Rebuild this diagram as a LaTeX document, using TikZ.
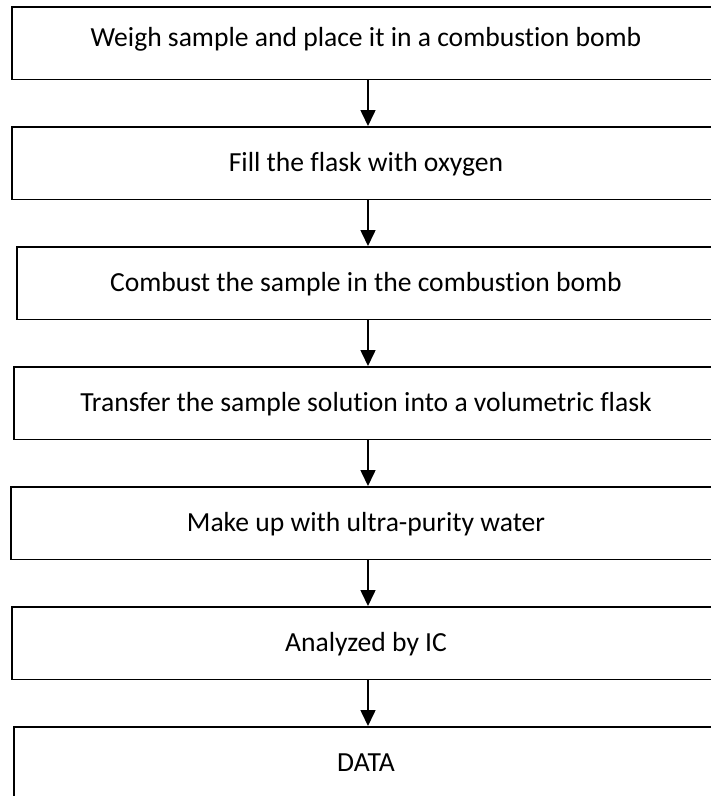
\documentclass[tikz,border=0pt]{standalone}
\usepackage{fontspec}
\setmainfont[RawFeature=-liga]{Carlito}
\usetikzlibrary{arrows.meta}
\begin{document}
\begin{tikzpicture}[x=1pt,y=-1pt,
  stepbox/.style={draw=black, line width=1.6pt, inner sep=0pt, minimum height=72.6pt,
    text height=17.4pt, text depth=0pt, text=black, font=\fontsize{27.6}{32}\selectfont},
  flow/.style={draw=black, line width=1.6pt, -{Triangle[width=15pt,length=16pt]}}]
\clip (0,0) rectangle (711,796);
\fill[white] (0,0) rectangle (711,796);
\node[stepbox, minimum width=708pt, text height=7.4pt] (b1) at (366,43.1) {Weigh sample and place it in a combustion bomb};
\node[stepbox, minimum width=708pt] (b2) at (366,163.1) {Fill the flask with oxygen};
\node[stepbox, minimum width=698pt] (b3) at (366,283.1) {Combust the sample in the combustion bomb};
\node[stepbox, minimum width=704pt] (b4) at (366,403.1) {Transfer the sample solution into a volumetric flask};
\node[stepbox, minimum width=710pt] (b5) at (366,523.1) {Make up with ultra-purity water};
\node[stepbox, minimum width=708pt] (b6) at (366,643.1) {Analyzed by IC};
\node[stepbox, minimum width=704pt] (b7) at (366,763.1) {DATA};
\draw[flow] ([xshift=2pt]b1.south) -- ([xshift=2pt]b2.north);
\draw[flow] ([xshift=2pt]b2.south) -- ([xshift=2pt]b3.north);
\draw[flow] ([xshift=2pt]b3.south) -- ([xshift=2pt]b4.north);
\draw[flow] ([xshift=2pt]b4.south) -- ([xshift=2pt]b5.north);
\draw[flow] ([xshift=2pt]b5.south) -- ([xshift=2pt]b6.north);
\draw[flow] ([xshift=2pt]b6.south) -- ([xshift=2pt]b7.north);
\end{tikzpicture}
\end{document}
